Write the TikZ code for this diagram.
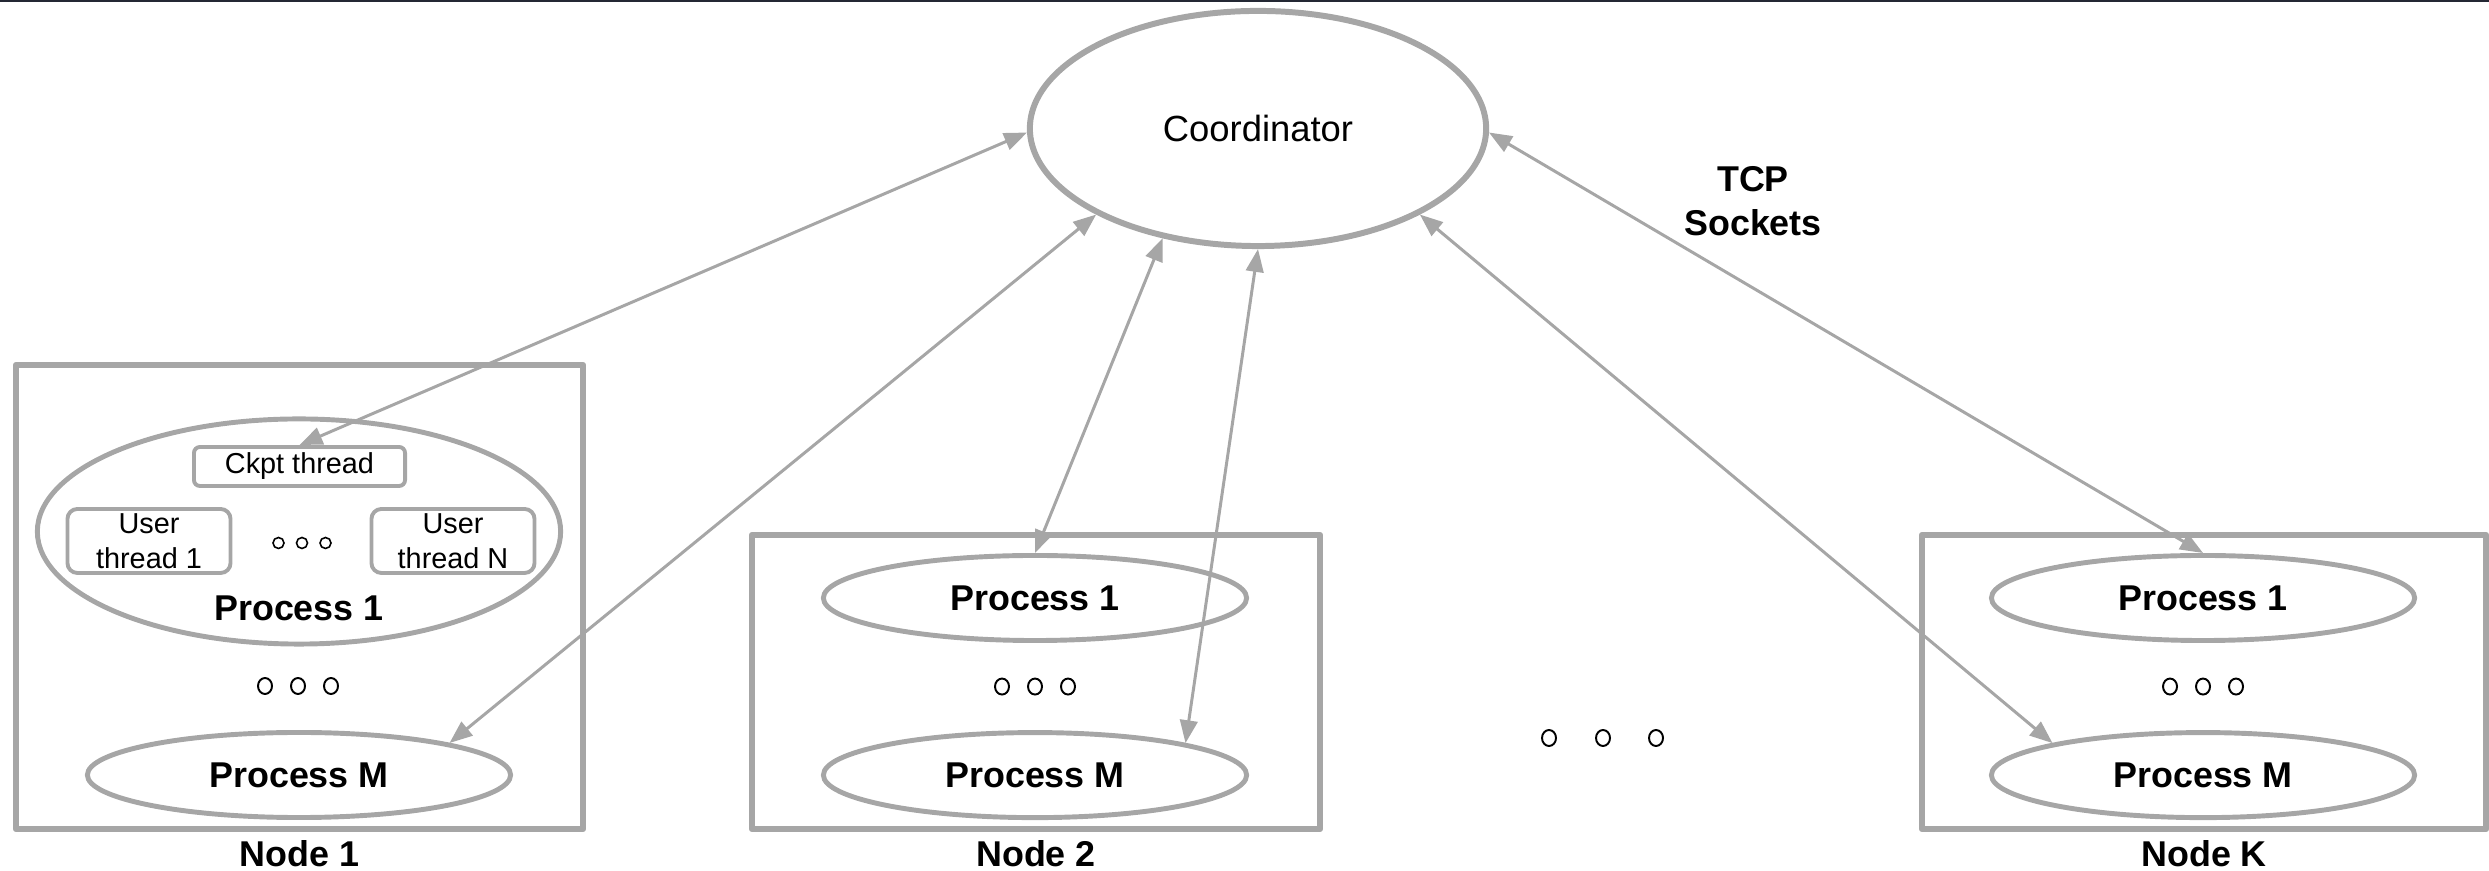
\documentclass[tikz,border=0pt]{standalone}
\usepackage{fontspec}
\setmainfont{Liberation Sans}
\usetikzlibrary{shapes.geometric, positioning, arrows.meta, calc}

\definecolor{edgegray}{RGB}{166,166,166}
\definecolor{topbar}{RGB}{36,40,52}

\begin{document}
\begin{tikzpicture}[x=0.01cm, y=-0.01cm, node distance=1.77cm, on grid,
    >={Triangle[length=6.5pt, width=5pt]},
    machine/.style={draw=edgegray, line width=1.7pt, line join=round},
    proc/.style={ellipse, draw=edgegray, line width=1.4pt, minimum width=4.23cm,
        minimum height=0.85cm, font=\fontsize{10.2}{12}\selectfont\bfseries},
    thr/.style={draw=edgegray, line width=1.1pt, align=center, inner sep=0pt,
        font=\fontsize{8.2}{9.96}\selectfont},
    lbl/.style={font=\fontsize{10.2}{12.5}\selectfont\bfseries, align=center, inner sep=0pt},
    sock/.style={<->, draw=edgegray, line width=0.85pt},
    dot/.style={draw=black, line width=0.55pt}]

    \useasboundingbox (0,0) rectangle (2489,871);
    \draw[topbar, line width=0.6pt] (0,1) -- (2489,1);

    \node[ellipse, draw=edgegray, line width=1.7pt, minimum width=4.56cm, minimum height=2.35cm,
        font=\fontsize{10.35}{12}\selectfont] (coord) at (1258,128.5) {Coordinator};
    \node[lbl] (tcp) at (1753,201) {TCP\\Sockets};

    % node 1
    \node[machine, minimum width=5.67cm, minimum height=4.64cm] (node1) at (299.5,597) {};
    \node[lbl, anchor=north] (n1lbl) at ([yshift=-0.08cm]node1.south) {Node 1};
    \node[ellipse, draw=edgegray, line width=1.4pt, minimum width=5.23cm, minimum height=2.25cm] (n1p1) at (299,531.5) {};
    \node[lbl] (n1p1lbl) at (299,608) {Process 1};
    \node[thr, rounded corners=0.06cm, minimum width=2.11cm, minimum height=0.39cm] (ckpt) at (299.5,466.5) {Ckpt thread};
    \node[thr, rounded corners=0.1cm, minimum width=1.63cm, minimum height=0.64cm] (usr1) at (149,541) {User\\thread 1};
    \node[thr, rounded corners=0.1cm, minimum width=1.63cm, minimum height=0.64cm] (usrn) at (453,541) {User\\thread N};
    \coordinate (thrdots) at (302,543);
    \node[proc] (n1pm) at (299,775) {Process M};
    \coordinate (n1dots) at (298,686);

    % node 2
    \node[machine, minimum width=5.68cm, minimum height=2.94cm] (node2) at (1036,682) {};
    \node[lbl, anchor=north] (n2lbl) at ([yshift=-0.08cm]node2.south) {Node 2};
    \node[proc] (n2p1) at (1035,598) {Process 1};
    \node[proc] (n2pm) [below=of n2p1] {Process M};
    \coordinate (n2dots) at ($(n2p1)!0.5!(n2pm)$);

    % node K
    \node[machine, minimum width=5.64cm, minimum height=2.94cm] (nodek) at (2204,682) {};
    \node[lbl, anchor=north] (nklbl) at ([yshift=-0.08cm]nodek.south) {Node K};
    \node[proc] (nkp1) at (2203,598) {Process 1};
    \node[proc] (nkpm) [below=of nkp1] {Process M};
    \coordinate (nkdots) at ($(nkp1)!0.5!(nkpm)$);

    \coordinate (middots) at (1603,738);

    % dots
    \foreach \dx in {-23.5,0,23.5}
        \draw[dot, line width=0.45pt] ($(thrdots)+(\dx,0)$) ellipse [x radius=5.5, y radius=5.5];
    \foreach \c in {n1dots,n2dots,nkdots}
        \foreach \dx in {-33,0,33}
            \draw[dot] ($(\c)+(\dx,0)$) ellipse [x radius=7, y radius=8];
    \foreach \dx in {-54,0,53}
        \draw[dot] ($(middots)+(\dx,0)$) ellipse [x radius=7, y radius=8];

    % sockets
    \draw[sock] (coord.181) -- (ckpt.north);
    \draw[sock] (coord.208) -- (n1pm.12);
    \draw[sock] (coord.229) -- (n2p1.north);
    \draw[sock] (coord.south) -- (n2pm.12);
    \draw[sock] (coord.332) -- (nkpm.168);
    \draw[sock] (coord.359) -- (nkp1.north);

\end{tikzpicture}
\end{document}
